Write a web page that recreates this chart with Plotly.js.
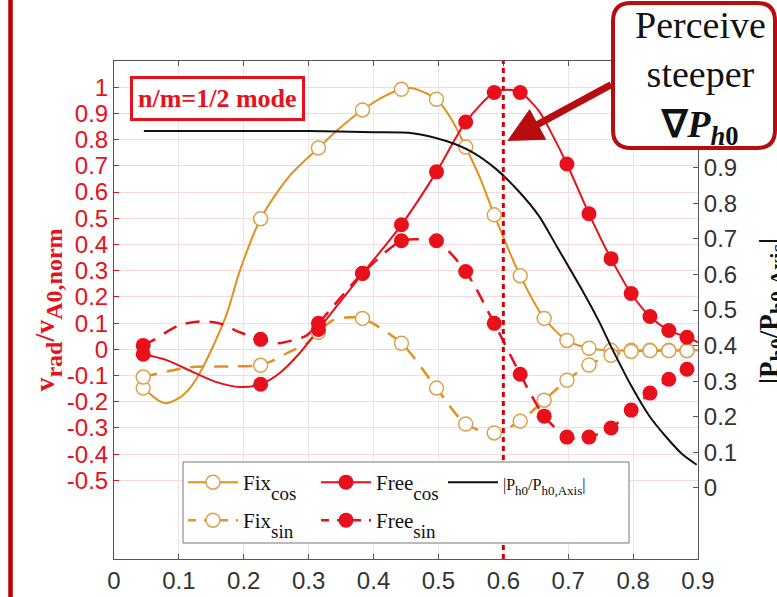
<!DOCTYPE html>
<html><head><meta charset="utf-8">
<script src="https://cdn.plot.ly/plotly-3.0.1.min.js"></script>
<style>html,body{margin:0;padding:0;background:#fff}#chart{width:777px;height:597px}</style>
</head><body><div id="chart"></div>
<script>
// ---- data ----
const rGrid = [0.045,0.226,0.315,0.383,0.443,0.497,0.542,0.586,0.626,0.663,0.698,0.732,0.766,0.797,0.826,0.855,0.883];
const fixCosMark  = [-0.148,0.498,0.768,0.913,0.992,0.954,0.772,0.513,0.281,0.118,0.034,0.004,-0.004,-0.004,-0.004,-0.004,-0.004];
const fixSinMark  = [-0.106,-0.061,0.065,0.118,0.023,-0.148,-0.285,-0.319,-0.274,-0.194,-0.118,-0.06,-0.023,-0.008,-0.005,-0.005,-0.005];
const freeCosMark = [-0.019,-0.133,0.076,0.289,0.475,0.677,0.867,0.98,0.98,null,0.707,0.517,0.346,0.213,0.125,0.072,0.046];
const freeSinMark = [0.015,0.038,0.099,0.29,0.414,0.414,0.297,0.099,-0.095,-0.255,-0.335,-0.335,-0.30,-0.232,-0.167,-0.114,-0.076];

const fixCosLineX = [0.045,0.077,0.100,0.117,0.132,0.152,0.174,0.194,0.226,0.27,0.315,0.348,0.383,0.417,0.443,0.46,0.497,0.52,0.542,0.566,0.586,0.626,0.663,0.698,0.732,0.766,0.9];
const fixCosLineY = [-0.148,-0.205,-0.186,-0.148,-0.091,0.008,0.137,0.300,0.498,0.66,0.768,0.844,0.913,0.966,0.992,0.996,0.954,0.878,0.772,0.643,0.513,0.281,0.118,0.034,0.004,-0.004,-0.004];
const fixSinLineX = [0.045,0.117,0.178,0.226,0.245,0.266,0.297,0.315,0.337,0.363,0.383,0.443,0.497,0.542,0.586,0.626,0.663,0.698,0.732,0.766,0.797,0.826,0.855,0.883];
const fixSinLineY = [-0.106,-0.068,-0.065,-0.061,-0.042,-0.015,0.023,0.065,0.11,0.122,0.118,0.023,-0.148,-0.285,-0.319,-0.274,-0.194,-0.118,-0.06,-0.023,-0.008,-0.005,-0.005,-0.005];
const freeCosLineX = [0.045,0.082,0.122,0.158,0.194,0.226,0.255,0.286,0.315,0.383,0.443,0.497,0.542,0.586,0.606,0.626,0.655,0.675,0.698,0.732,0.766,0.797,0.826,0.855,0.883,0.9];
const freeCosLineY = [-0.019,-0.042,-0.087,-0.125,-0.144,-0.133,-0.091,-0.015,0.076,0.289,0.475,0.677,0.867,0.98,0.99,0.98,0.909,0.821,0.707,0.517,0.346,0.213,0.125,0.072,0.046,0.027];
const freeSinLineX = [0.045,0.06,0.10,0.132,0.163,0.194,0.226,0.25,0.275,0.297,0.315,0.383,0.443,0.47,0.497,0.542,0.586,0.626,0.663,0.698,0.715,0.732,0.766,0.797,0.826,0.855,0.883];
const freeSinLineY = [0.015,0.034,0.091,0.106,0.099,0.065,0.038,0.023,0.034,0.053,0.099,0.29,0.414,0.42,0.414,0.297,0.099,-0.095,-0.255,-0.335,-0.34,-0.335,-0.30,-0.232,-0.167,-0.114,-0.076];

const pX = [0.046,0.1,0.2,0.3,0.4,0.46,0.512,0.552,0.589,0.625,0.655,0.682,0.717,0.748,0.768,0.798,0.825,0.851,0.875,0.898];
const pY = [1.003,1.003,1.003,1.003,1.0,0.997,0.975,0.944,0.896,0.831,0.764,0.680,0.570,0.466,0.390,0.284,0.202,0.143,0.096,0.065];

const xTickVals = [0,0.1,0.2,0.3,0.4,0.5,0.6,0.7,0.8,0.9];
const xTickText = ['0','0.1','0.2','0.3','0.4','0.5','0.6','0.7','0.8','0.9'];
const yTickVals = [-0.5,-0.4,-0.3,-0.2,-0.1,0,0.1,0.2,0.3,0.4,0.5,0.6,0.7,0.8,0.9,1];
const yTickText = ['-0.5','-0.4','-0.3','-0.2','-0.1','0','0.1','0.2','0.3','0.4','0.5','0.6','0.7','0.8','0.9','1'];
const y2TickVals = [0,0.1,0.2,0.3,0.4,0.5,0.6,0.7,0.8,0.9];
const y2TickText = ['0','0.1','0.2','0.3','0.4','0.5','0.6','0.7','0.8','0.9'];
const sub = (t, s, d) => `<span style="font-size:${s}px;baseline-shift:-${d}px">${t}</span>`;
const legendNames = ['Fix' + sub('cos',19,10), 'Free' + sub('cos',19,10),
  '<span style="font-size:16px">|P' + sub('h0',13,5) + '/P' + sub('h0,Axis',13,5) + '|</span>',
  'Fix' + sub('sin',19,10), 'Free' + sub('sin',19,10)];
const leftTitle = '<b>v' + sub('rad',24,8) + '/v' + sub('A0,norm',24,8) + '</b>';
const rightTitle = '<b>|P' + sub('h0',22,7) + '/P' + sub('h0,Axis',22,7) + '|</b>';

// ---- styles ----
const ORANGE = '#e3901f', RED = '#e8101a', DARKRED = '#b80d10';
const serif = 'Liberation Serif, Times New Roman, serif';
const sans = 'Liberation Sans, Arial, sans-serif';
const openMarker = {symbol:'circle', size:14, color:'#ffffff', line:{color:'#d9a24e', width:1.5}};
const fullMarker = {symbol:'circle', size:15, color:RED, line:{width:0}};

const traces = [
  {x:fixCosLineX, y:fixCosLineY, mode:'lines', line:{color:ORANGE, width:2, shape:'spline', smoothing:0.8}, showlegend:false, hoverinfo:'skip'},
  {x:fixSinLineX, y:fixSinLineY, mode:'lines', line:{color:ORANGE, width:2.5, dash:'14px,10px', shape:'spline', smoothing:0.8}, showlegend:false, hoverinfo:'skip'},
  {x:freeCosLineX, y:freeCosLineY, mode:'lines', line:{color:RED, width:2, shape:'spline', smoothing:0.8}, showlegend:false, hoverinfo:'skip'},
  {x:freeSinLineX, y:freeSinLineY, mode:'lines', line:{color:RED, width:2.5, dash:'14px,10px', shape:'spline', smoothing:0.8}, showlegend:false, hoverinfo:'skip'},
  {x:rGrid, y:fixCosMark, mode:'markers', marker:openMarker, showlegend:false},
  {x:rGrid, y:fixSinMark, mode:'markers', marker:openMarker, showlegend:false},
  {x:rGrid, y:freeCosMark, mode:'markers', marker:fullMarker, showlegend:false},
  {x:rGrid, y:freeSinMark, mode:'markers', marker:fullMarker, showlegend:false},
  // legend entries (row 1)
  {x:[null], y:[null], mode:'lines+markers', name:legendNames[0], line:{color:ORANGE, width:2}, marker:openMarker, legend:'legend'},
  {x:[null], y:[null], mode:'lines+markers', name:legendNames[1], line:{color:RED, width:2}, marker:fullMarker, legend:'legend'},
  {x:pX, y:pY, yaxis:'y2', mode:'lines', name:legendNames[2], line:{color:'#111', width:2, shape:'spline', smoothing:0.8}, legend:'legend3'},
  // legend entries (row 2)
  {x:[null], y:[null], mode:'lines+markers', name:legendNames[3], line:{color:ORANGE, width:2.5, dash:'8px,8px'}, marker:openMarker, legend:'legend2'},
  {x:[null], y:[null], mode:'lines+markers', name:legendNames[4], line:{color:RED, width:2.5, dash:'8px,8px'}, marker:fullMarker, legend:'legend2'}
];

const L = 114, R = 79, T = 61, B = 38, PW = 777-L-R, PH = 597-T-B;
const px = v => (v-L)/PW, py = v => (597-B-v)/PH;
const x0=px(613), x1=px(775), y0=py(148), y1=py(3), rx=18/PW, ry=18/PH;
const boxPath = `M${x0+rx},${y1} L${x1-rx},${y1} Q${x1},${y1} ${x1},${y1-ry} L${x1},${y0+ry} Q${x1},${y0} ${x1-rx},${y0} L${x0+rx},${y0} Q${x0},${y0} ${x0},${y0+ry} L${x0},${y1-ry} Q${x0},${y1} ${x0+rx},${y1} Z`;

const legendCommon = {orientation:'h', xanchor:'left', yanchor:'top', bgcolor:'rgba(0,0,0,0)', borderwidth:0,
  font:{family:serif, size:21, color:'#111'}, itemwidth:50, entrywidth:68, entrywidthmode:'pixels', tracegroupgap:0};

const layout = {
  width:777, height:597,
  margin:{l:L, r:R, t:T, b:B, pad:0},
  paper_bgcolor:'#fff', plot_bgcolor:'#fff',
  showlegend:true,
  xaxis:{range:[0,0.9], tickvals:xTickVals, ticktext:xTickText, ticks:'inside', ticklen:5, tickcolor:'#555',
    showline:true, linecolor:'#555', linewidth:1, mirror:'ticks', showgrid:true, gridcolor:'#ebe4e4', zeroline:false,
    tickfont:{family:sans, size:24, color:'#333'}, fixedrange:true},
  yaxis:{range:[-0.8,1.1], tickvals:yTickVals, ticktext:yTickText, ticks:'inside', ticklen:5, tickcolor:RED,
    showline:true, linecolor:RED, linewidth:1, showgrid:true, gridcolor:'#f6dada', zeroline:false,
    tickfont:{family:sans, size:24, color:RED},
    title:{text:leftTitle, font:{family:serif, size:28, color:RED}, standoff:4}},
  yaxis2:{overlaying:'y', side:'right', range:[-0.2,1.2], tickvals:y2TickVals, ticktext:y2TickText, ticks:'inside', ticklen:5,
    tickcolor:'#555', showline:true, linecolor:'#555', linewidth:1, showgrid:false, zeroline:false,
    tickfont:{family:sans, size:24, color:'#333'}},
  legend:Object.assign({x:px(183), y:py(462)}, legendCommon),
  legend2:Object.assign({x:px(183), y:py(500)}, legendCommon),
  legend3:Object.assign({}, legendCommon, {x:px(443), y:py(462), entrywidth:120}),
  shapes:[
    {type:'line', xref:'x', yref:'paper', x0:0.6, x1:0.6, y0:0, y1:1, layer:'above', line:{color:'#d4000a', width:3, dash:'5px,4px'}},
    {type:'rect', xref:'paper', yref:'paper', x0:px(183), x1:px(629), y0:py(543), y1:py(462), layer:'above', fillcolor:'#fff', line:{color:'#777', width:1}},
    {type:'line', xref:'paper', yref:'paper', x0:px(10.5), x1:px(10.5), y0:py(600), y1:py(-3), layer:'above', line:{color:'#c00000', width:4.5}},
    {type:'path', xref:'paper', yref:'paper', path:boxPath, layer:'above', fillcolor:'#fff', line:{color:DARKRED, width:4}}
  ],
  annotations:[
    {xref:'paper', yref:'paper', x:px(772), y:py(311), text:rightTitle, textangle:-90, showarrow:false, xanchor:'center', yanchor:'middle',
      font:{family:serif, size:27, color:'#111'}},
    {xref:'paper', yref:'paper', x:px(217), y:py(99), text:'<b>n/m=1/2 mode</b>', showarrow:false, xanchor:'center', yanchor:'middle',
      font:{family:serif, size:26, color:RED}, bgcolor:'#fff', bordercolor:RED, borderwidth:3, borderpad:5},
    {xref:'paper', yref:'paper', x:px(700), y:py(78), text:'Perceive<br>steeper<br><b>∇<i>P</i><sub><i>h</i>0</sub></b>', showarrow:false,
      xanchor:'center', yanchor:'middle', font:{family:serif, size:38, color:'#111'}},
    {xref:'x', yref:'y', x:0.606, y:0.795, text:' ', showarrow:true, ax:107, ay:-58, arrowhead:2, arrowsize:1, arrowwidth:7,
      arrowcolor:DARKRED, standoff:0}
  ]
};

Plotly.newPlot('chart', traces, layout, {staticPlot:true, displayModeBar:false});
</script></body></html>
